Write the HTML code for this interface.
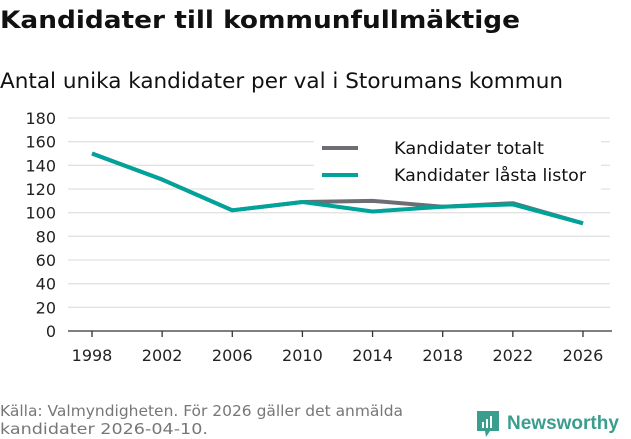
<!DOCTYPE html>
<html><head><meta charset="utf-8"><style>
body{margin:0;width:631px;height:439px;background:#fff;font-family:"DejaVu Sans","Liberation Sans",sans-serif;overflow:hidden;position:relative}
</style></head><body>
<svg id="c" width="631" height="439" style="position:absolute;left:0;top:0">
<text x="0" y="28" font-size="24" font-weight="bold" fill="#111" textLength="520" lengthAdjust="spacingAndGlyphs" font-family="DejaVu Sans, sans-serif">Kandidater till kommunfullmäktige</text>
<text x="0" y="88" font-size="21" fill="#111" textLength="563" lengthAdjust="spacingAndGlyphs" font-family="DejaVu Sans, sans-serif">Antal unika kandidater per val i Storumans kommun</text>
<text x="0" y="416" font-size="15" fill="#777" textLength="403" lengthAdjust="spacingAndGlyphs" font-family="DejaVu Sans, sans-serif">Källa: Valmyndigheten. För 2026 gäller det anmälda</text>
<text x="0" y="434" font-size="15" fill="#777" textLength="208" lengthAdjust="spacingAndGlyphs" font-family="DejaVu Sans, sans-serif">kandidater 2026-04-10.</text>
</svg>
<div style="position:absolute;left:476px;top:410px;display:flex;align-items:center">
<svg width="24" height="28"><path d="M1 1h22v20h-9l-4 6-1-6H1z" fill="#3a9e8f"/><rect x="6" y="12" width="2" height="6" fill="#fff"/><rect x="10" y="9" width="2" height="9" fill="#fff"/><rect x="14" y="6" width="2" height="12" fill="#fff"/></svg>
<span style="font-size:19px;font-weight:bold;color:#3a9e8f;margin-left:7px;font-family:'Liberation Sans',sans-serif">Newsworthy</span></div>
<script>
const years=["1998","2002","2006","2010","2014","2018","2022","2026"];
const totalt=[150,128,102,109,110,105,108,91];
const lasta=[150,128,102,109,101,105,107,91];
const yTicks=[0,20,40,60,80,100,120,140,160,180];
const NS="http://www.w3.org/2000/svg",svg=document.getElementById('c');
const x=i=>92+i*70.14, y=v=>331-v*(213/180);
function mk(t,a){const e=document.createElementNS(NS,t);for(const k in a)e.setAttribute(k,a[k]);svg.appendChild(e);return e;}
yTicks.forEach(v=>{
 if(v>0){const g=mk('line',{x1:68,x2:610,y1:y(v),y2:y(v),stroke:'#e2e2e2','stroke-width':1.3});
 
 }
 const t=mk('text',{x:56,y:y(v)+6,'text-anchor':'end','font-size':16,fill:'#222','font-family':'DejaVu Sans, sans-serif'});t.textContent=v;
 
 
});
const ax=mk('line',{x1:68,x2:612,y1:331,y2:331,stroke:'#333','stroke-width':1.3});


years.forEach((yr,i)=>{
 mk('line',{x1:x(i),x2:x(i),y1:331,y2:337,stroke:'#333','stroke-width':1.3});
 const t=mk('text',{x:x(i),y:361,'text-anchor':'middle','font-size':16,fill:'#222','font-family':'DejaVu Sans, sans-serif'});t.textContent=yr;
 
 
});
function line(d,c,n){const p=mk('polyline',{points:d.map((v,i)=>x(i)+','+y(v)).join(' '),fill:'none',stroke:c,'stroke-width':4,'stroke-linejoin':'round'});
 
 }
line(totalt,'#6f6d74','series-kandidater-totalt');
line(lasta,'#00a39a','series-kandidater-lasta-listor');
const lb=mk('rect',{x:314,y:140,width:287,height:50,fill:'#fff'});


[['Kandidater totalt','#6f6d74',148,150],['Kandidater låsta listor','#00a39a',175,192]].forEach(([l,c,yy,w])=>{
 mk('line',{x1:322,x2:358,y1:yy,y2:yy,stroke:c,'stroke-width':4});
 const t=mk('text',{x:394,y:yy+6,'font-size':17,fill:'#111','font-family':'DejaVu Sans, sans-serif',textLength:w,lengthAdjust:'spacingAndGlyphs'});t.textContent=l;
 
 
});
</script>
</body></html>
